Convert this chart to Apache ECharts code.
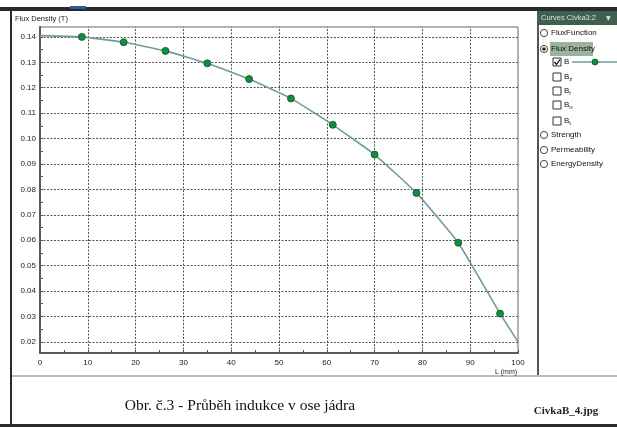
<!DOCTYPE html>
<html>
<head>
<meta charset="utf-8">
<script src="https://cdn.jsdelivr.net/npm/echarts@6/dist/echarts.min.js"></script>
<style>
  html, body { margin: 0; padding: 0; background: #fff; }
  #chart { width: 617px; height: 427px; }
</style>
</head>
<body>
<div id="chart"></div>
<script>
// Position along the core axis (mm) and the flux density B (T) at those positions
const positions = [0, 8.75, 17.5, 26.25, 35, 43.75, 52.5, 61.25, 70, 78.75, 87.5, 96.25, 100];
const fluxDensity = [0.1405, 0.1400, 0.1379, 0.1345, 0.1296, 0.1234, 0.1158, 0.1054, 0.0937, 0.0786, 0.0590, 0.0311, 0.0200];
// The sample points carrying a marker (the curve ends carry none)
const markedFlags = [false, true, true, true, true, true, true, true, true, true, true, true, false];

// Axis tick labels
const yTickValues = [0.02, 0.03, 0.04, 0.05, 0.06, 0.07, 0.08, 0.09, 0.10, 0.11, 0.12, 0.13, 0.14];
const yMinorValues = [0.025, 0.035, 0.045, 0.055, 0.065, 0.075, 0.085, 0.095, 0.105, 0.115, 0.125, 0.135];
const xTickValues = [0, 10, 20, 30, 40, 50, 60, 70, 80, 90, 100];

// Side panel entries
const curveTypes = ['FluxFunction', 'Flux Density', 'Strength', 'Permeability', 'EnergyDensity'];
const componentLabels = ['B', 'B{s|z}', 'B{s|r}', 'B{s|n}', 'B{s|t}'];

const LINE_COLOR = '#6f9c9c';
const MARK_COLOR = '#0e9040';
const GRID_COLOR = '#555';
const smallFont = '"Liberation Sans Narrow", "Liberation Sans", Arial, sans-serif';

const chart = echarts.init(document.getElementById('chart'), null, { renderer: 'canvas' });

const seriesData = positions.map((x, i) => {
  const item = { value: [x, fluxDensity[i]] };
  if (!markedFlags[i]) item.symbol = 'none';
  return item;
});

// Dotted grid lines through every labelled tick
const gridLines = yTickValues.map(v => ({ yAxis: v }))
  .concat(xTickValues.slice(1, -1).map(v => ({ xAxis: v })));

// Side panel drawing
const panel = [];
const px = 544;
const radioRows = [33, 49, 135, 150, 164];
curveTypes.forEach((name, i) => {
  const y = radioRows[i];
  panel.push({
    type: 'circle', shape: { cx: px, cy: y, r: 3.6 },
    style: { fill: '#fff', stroke: '#444', lineWidth: 1 }, z: 10
  });
  if (i === 1) {
    panel.push({
      type: 'circle', shape: { cx: px, cy: y, r: 1.8 },
      style: { fill: '#222' }, z: 11
    });
    panel.push({
      type: 'rect', shape: { x: 550, y: y - 7, width: 43, height: 14 },
      style: { fill: '#9bb39d' }, z: 9
    });
  }
  panel.push({
    type: 'text', x: 551, y: y,
    style: { text: name, fontSize: 8, fontFamily: smallFont, fill: '#111', verticalAlign: 'middle' },
    z: 12
  });
});
const checkRows = [62, 77, 91, 105, 121];
componentLabels.forEach((label, i) => {
  const y = checkRows[i];
  panel.push({
    type: 'rect', shape: { x: 553, y: y - 4, width: 8, height: 8 },
    style: { fill: '#fff', stroke: '#333', lineWidth: 1 }, z: 10
  });
  if (i === 0) {
    panel.push({
      type: 'polyline', shape: { points: [[554.5, y], [556.5, y + 2.5], [560, y - 2.5]] },
      style: { stroke: '#111', lineWidth: 1.3, fill: null }, z: 11
    });
  }
  panel.push({
    type: 'text', x: 564, y: y,
    style: {
      text: label, fontSize: 8, fontFamily: smallFont, fill: '#111', verticalAlign: 'middle',
      rich: { s: { fontSize: 6, fontFamily: smallFont, padding: [5, 0, 0, 0], fill: '#111' } }
    },
    z: 12
  });
});
// Legend sample of the active curve
panel.push({
  type: 'line', shape: { x1: 572, y1: 62, x2: 617, y2: 62 },
  style: { stroke: LINE_COLOR, lineWidth: 1.3 }, z: 10
});
panel.push({
  type: 'circle', shape: { cx: 595, cy: 62, r: 3 },
  style: { fill: MARK_COLOR, stroke: '#174a28', lineWidth: 0.8 }, z: 11
});

const option = {
  backgroundColor: '#fff',
  animation: false,
  grid: {
    left: 40, top: 27, width: 478, height: 326,
    show: true, borderColor: '#666', borderWidth: 1, backgroundColor: '#fff'
  },
  xAxis: {
    type: 'value', min: 0, max: 100, interval: 10,
    axisLine: { show: true, onZero: false, lineStyle: { color: '#5a5a5a', width: 2 } },
    axisTick: { show: true, inside: true, length: 3, lineStyle: { color: '#555' } },
    minorTick: { show: true, splitNumber: 2, length: 3, lineStyle: { color: '#555' } },
    splitLine: { show: false },
    axisLabel: { fontSize: 8, fontFamily: smallFont, color: '#222', margin: 6 }
  },
  yAxis: {
    type: 'value', min: 0.0156, max: 0.1439,
    axisLine: { show: true, onZero: false, lineStyle: { color: '#5a5a5a', width: 2 } },
    axisTick: {
      show: true, inside: true, length: 3, lineStyle: { color: '#555' },
      customValues: yTickValues.concat(yMinorValues)
    },
    splitLine: { show: false },
    axisLabel: {
      fontSize: 8, fontFamily: smallFont, color: '#222', margin: 4,
      customValues: yTickValues,
      formatter: v => v.toFixed(2)
    }
  },
  series: [{
    name: 'B',
    type: 'line',
    data: seriesData,
    smooth: 0.12,
    symbol: 'circle',
    symbolSize: 7,
    showAllSymbol: true,
    lineStyle: { color: LINE_COLOR, width: 1.6 },
    itemStyle: { color: MARK_COLOR, borderColor: '#174a28', borderWidth: 0.8 },
    z: 5,
    markLine: {
      silent: true, symbol: 'none', animation: false,
      label: { show: false },
      lineStyle: { color: GRID_COLOR, type: [2, 1.5], width: 1 },
      data: gridLines,
      z: 1
    }
  }],
  graphic: [
    // window frame
    { type: 'rect', shape: { x: 0, y: 7, width: 617, height: 4 }, style: { fill: '#2a2a2a' }, z: 20 },
    { type: 'rect', shape: { x: 70, y: 6, width: 16, height: 3 }, style: { fill: '#2c5a9a' }, z: 21 },
    { type: 'rect', shape: { x: 10, y: 7, width: 2, height: 420 }, style: { fill: '#2a2a2a' }, z: 20 },
    { type: 'rect', shape: { x: 0, y: 424, width: 617, height: 3 }, style: { fill: '#2a2a2a' }, z: 20 },
    { type: 'rect', shape: { x: 537, y: 11, width: 2, height: 365 }, style: { fill: '#555' }, z: 20 },
    { type: 'rect', shape: { x: 12, y: 375, width: 605, height: 2 }, style: { fill: '#b3c2b5' }, z: 20 },
    // panel header
    { type: 'rect', shape: { x: 539, y: 11, width: 78, height: 14 }, style: { fill: '#3f5f4f' }, z: 20 },
    {
      type: 'text', x: 541, y: 18,
      style: { text: 'Curves Civka3:2', fontSize: 7.5, fontFamily: smallFont, fill: '#d8e2d8', verticalAlign: 'middle' },
      z: 21
    },
    {
      type: 'text', x: 606, y: 18,
      style: { text: '▼', fontSize: 6, fontFamily: 'DejaVu Sans', fill: '#e0e8e0', verticalAlign: 'middle' },
      z: 21
    },
    // axis titles
    {
      type: 'text', x: 15, y: 19,
      style: { text: 'Flux Density (T)', fontSize: 7.5, fontFamily: smallFont, fill: '#222', verticalAlign: 'middle' },
      z: 21
    },
    {
      type: 'text', x: 506, y: 372,
      style: { text: 'L (mm)', fontSize: 7, fontFamily: smallFont, fill: '#222', align: 'center', verticalAlign: 'middle' },
      z: 21
    },
    // caption
    {
      type: 'text', x: 240, y: 406,
      style: {
        text: 'Obr. č.3 - Průběh indukce v ose jádra', fontSize: 15.5,
        fontFamily: '"Liberation Serif", "Times New Roman", serif', fill: '#111',
        align: 'center', verticalAlign: 'middle'
      },
      z: 21
    },
    {
      type: 'text', x: 566, y: 411,
      style: {
        text: 'CivkaB_4.jpg', fontSize: 11, fontWeight: 'bold',
        fontFamily: '"Liberation Serif", "Times New Roman", serif', fill: '#222',
        align: 'center', verticalAlign: 'middle'
      },
      z: 21
    }
  ].concat(panel)
};

chart.setOption(option);
</script>
</body>
</html>
